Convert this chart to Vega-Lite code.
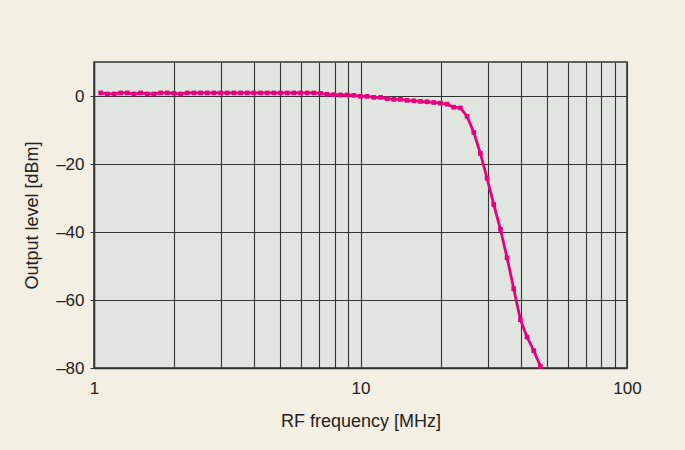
{
  "$schema": "https://vega.github.io/schema/vega-lite/v6.json",
  "autosize": "none",
  "width": 533,
  "height": 306,
  "padding": {"left": 94, "top": 62, "right": 58, "bottom": 82},
  "background": "#f3efe3",
  "config": {
    "view": {"fill": "#e0e5df", "stroke": "#333333", "strokeWidth": 1.5},
    "font": "Liberation Sans",
    "axis": {
      "labelFont": "Liberation Sans",
      "titleFont": "Liberation Sans",
      "labelFontSize": 17,
      "titleFontSize": 18,
      "titleFontWeight": "normal",
      "labelColor": "#222222",
      "titleColor": "#222222",
      "gridColor": "#333333",
      "gridWidth": 1.1,
      "gridOpacity": 1,
      "domainColor": "#333333",
      "domainWidth": 1.5,
      "tickColor": "#333333",
      "labelFlush": false
    }
  },
  "data": {
    "values": [
      {"f": 1.059, "db": 0.9}, {"f": 1.122, "db": 0.6}, {"f": 1.189, "db": 0.6}, {"f": 1.259, "db": 0.9},
      {"f": 1.334, "db": 0.9}, {"f": 1.413, "db": 0.6}, {"f": 1.496, "db": 0.9}, {"f": 1.585, "db": 0.6},
      {"f": 1.679, "db": 0.6}, {"f": 1.778, "db": 0.9}, {"f": 1.884, "db": 0.9}, {"f": 1.995, "db": 0.8},
      {"f": 2.113, "db": 0.6}, {"f": 2.239, "db": 0.9}, {"f": 2.371, "db": 0.9}, {"f": 2.512, "db": 0.9},
      {"f": 2.661, "db": 0.9}, {"f": 2.818, "db": 0.9}, {"f": 2.985, "db": 0.9}, {"f": 3.162, "db": 0.9},
      {"f": 3.350, "db": 0.9}, {"f": 3.548, "db": 0.9}, {"f": 3.758, "db": 0.9}, {"f": 3.981, "db": 0.9},
      {"f": 4.217, "db": 0.9}, {"f": 4.467, "db": 0.9}, {"f": 4.732, "db": 0.9}, {"f": 5.012, "db": 0.9},
      {"f": 5.309, "db": 0.9}, {"f": 5.623, "db": 0.9}, {"f": 5.957, "db": 0.9}, {"f": 6.310, "db": 0.9},
      {"f": 6.683, "db": 0.9}, {"f": 7.079, "db": 0.8}, {"f": 7.499, "db": 0.5}, {"f": 7.943, "db": 0.4},
      {"f": 8.414, "db": 0.3}, {"f": 8.913, "db": 0.3}, {"f": 9.441, "db": 0.2}, {"f": 10.0, "db": -0.1},
      {"f": 10.59, "db": -0.1}, {"f": 11.22, "db": -0.4}, {"f": 11.89, "db": -0.4}, {"f": 12.59, "db": -0.8},
      {"f": 13.34, "db": -1.0}, {"f": 14.13, "db": -1.0}, {"f": 14.96, "db": -1.3}, {"f": 15.85, "db": -1.4},
      {"f": 16.79, "db": -1.6}, {"f": 17.78, "db": -1.7}, {"f": 18.84, "db": -1.9}, {"f": 19.95, "db": -2.1},
      {"f": 21.13, "db": -2.4}, {"f": 22.39, "db": -3.3}, {"f": 23.71, "db": -3.5}, {"f": 25.12, "db": -6.0},
      {"f": 26.61, "db": -10.7}, {"f": 28.18, "db": -16.9}, {"f": 29.85, "db": -24.2}, {"f": 31.62, "db": -31.9},
      {"f": 33.50, "db": -39.2}, {"f": 35.48, "db": -47.6}, {"f": 37.58, "db": -56.7}, {"f": 39.81, "db": -65.8},
      {"f": 42.17, "db": -70.9}, {"f": 44.67, "db": -74.9}, {"f": 47.32, "db": -79.5}
    ]
  },
  "encoding": {
    "x": {
      "field": "f",
      "type": "quantitative",
      "scale": {"type": "log", "domain": [1, 100], "nice": false},
      "axis": {
        "title": "RF frequency [MHz]",
        "values": [1, 2, 3, 4, 5, 6, 7, 8, 9, 10, 20, 30, 40, 50, 60, 70, 80, 90, 100],
        "labelExpr": "indexof([1, 10, 100], datum.value) >= 0 ? datum.label : ''",
        "format": "d",
        "labelOverlap": false,
        "ticks": false,
        "labelPadding": 12,
        "titlePadding": 16
      }
    },
    "y": {
      "field": "db",
      "type": "quantitative",
      "scale": {"domain": [-80, 10], "nice": false},
      "axis": {
        "title": "Output level [dBm]",
        "values": [-80, -60, -40, -20, 0],
        "labelExpr": "datum.value < 0 ? '–' + abs(datum.value) : datum.label",
        "tickSize": 4,
        "labelPadding": 6,
        "titlePadding": 14
      }
    }
  },
  "layer": [
    {"mark": {"type": "line", "color": "#e6007e", "strokeWidth": 2.8, "clip": true}},
    {"mark": {"type": "square", "color": "#e6007e", "opacity": 1, "size": 22, "filled": true}}
  ]
}
